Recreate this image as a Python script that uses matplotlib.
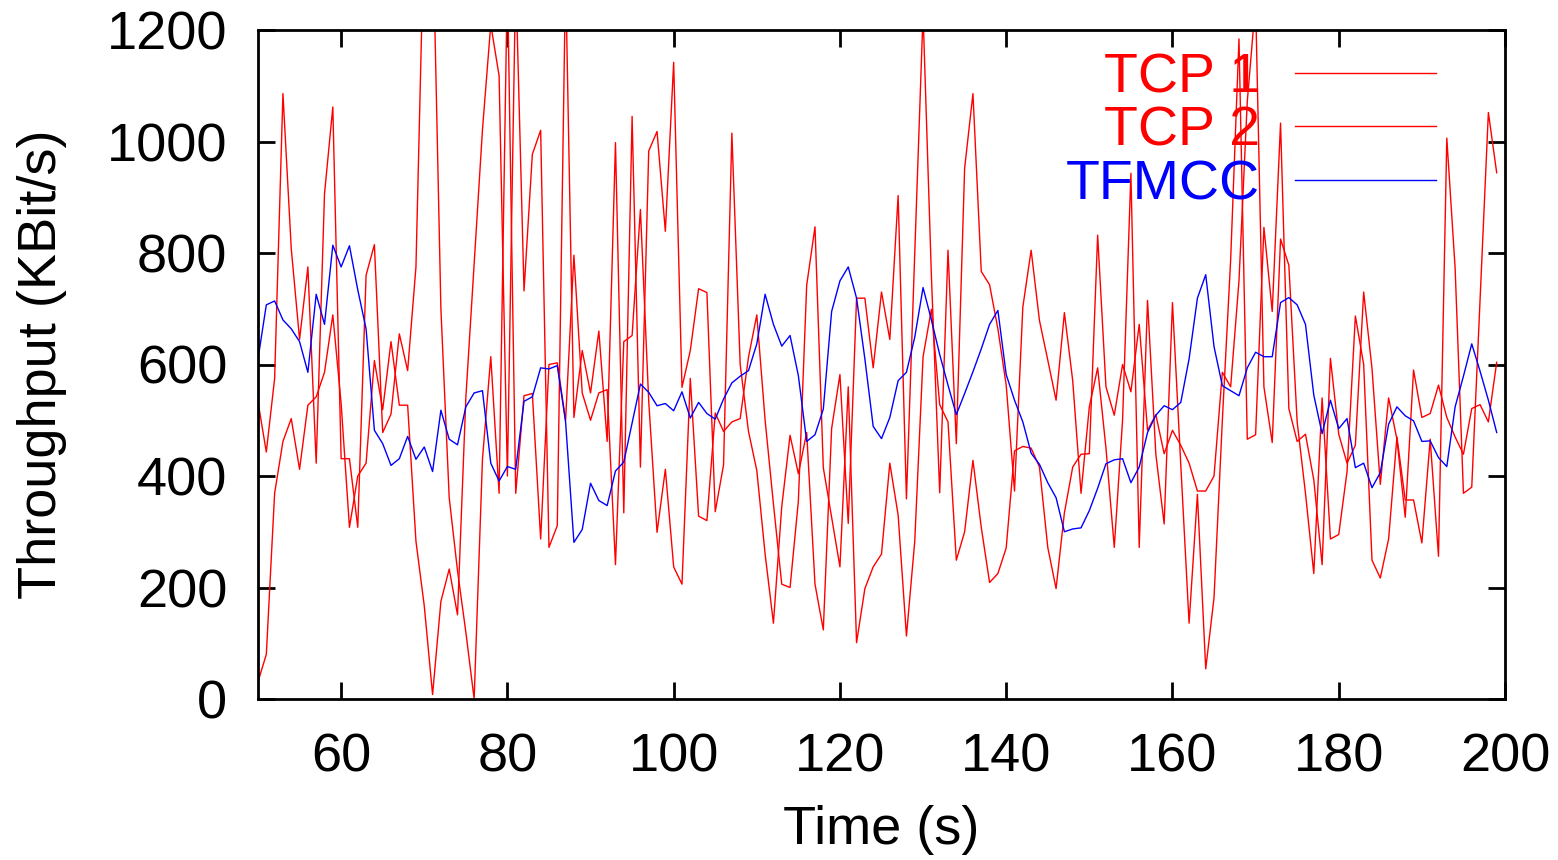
import matplotlib
matplotlib.use("Agg")
import matplotlib.pyplot as plt
import numpy as np

plt.rcParams['font.family'] = ['Liberation Sans', 'DejaVu Sans']

# time axis, one sample per second
time_s = list(range(50, 200))

# throughput in KBit/s
tcp1 = [31, 80, 369, 462, 503, 412, 527, 542, 586, 689,
        530, 308, 400, 423, 607, 519, 641, 527, 527, 283,
        167, 8, 175, 233, 151, 540, 780, 1021, 1210, 1118,
        400, 1300, 732, 977, 1020, 272, 311, 1300, 505, 625,
        549, 660, 462, 998, 334, 1045, 416, 983, 1018, 839,
        1142, 559, 625, 736, 729, 336, 420, 1015, 600, 480,
        410, 260, 136, 345, 473, 404, 478, 206, 124, 485,
        582, 315, 719, 719, 594, 730, 645, 903, 359, 800,
        1230, 760, 370, 805, 458, 952, 1086, 767, 743, 664,
        563, 373, 703, 805, 679, 608, 536, 693, 571, 369,
        524, 594, 450, 272, 501, 943, 272, 715, 439, 314,
        711, 420, 136, 367, 54, 182, 500, 788, 1184, 466,
        474, 846, 695, 1033, 521, 462, 475, 393, 241, 611,
        475, 423, 455, 730, 593, 385, 540, 466, 326, 590,
        505, 512, 563, 505, 470, 439, 521, 528, 497, 604]

tcp2 = [533, 443, 575, 1086, 808, 645, 775, 423, 906, 1062,
        431, 431, 308, 760, 815, 478, 511, 655, 589, 775,
        1400, 1400, 700, 361, 230, 120, 0, 430, 614, 369,
        1300, 369, 544, 548, 287, 600, 603, 500, 796, 549,
        500, 549, 555, 241, 641, 652, 878, 534, 299, 412,
        237, 206, 575, 328, 320, 513, 480, 497, 503, 613,
        689, 500, 350, 206, 200, 355, 742, 847, 415, 326,
        237, 560, 101, 198, 237, 260, 423, 330, 113, 283,
        614, 699, 528, 497, 249, 300, 428, 308, 209, 225,
        271, 445, 453, 450, 416, 272, 198, 334, 416, 439,
        440, 832, 560, 509, 600, 551, 672, 482, 510, 440,
        482, 455, 423, 373, 373, 400, 586, 560, 750, 1072,
        1250, 560, 460, 825, 778, 497, 369, 225, 540, 287,
        295, 408, 687, 600, 249, 217, 287, 470, 357, 357,
        280, 466, 256, 1006, 773, 369, 380, 716, 1052, 944]

tfmcc = [610, 707, 714, 680, 664, 641, 586, 726, 672, 814,
         775, 813, 734, 664, 482, 458, 419, 431, 471, 430,
         452, 408, 518, 466, 456, 524, 549, 553, 423, 391,
         417, 412, 534, 542, 594, 592, 598, 497, 281, 304,
         387, 356, 347, 409, 425, 495, 565, 550, 526, 530,
         517, 551, 504, 532, 512, 502, 538, 567, 579, 589,
         637, 726, 672, 633, 652, 580, 462, 474, 520, 695,
         750, 775, 719, 610, 489, 467, 505, 571, 586, 649,
         738, 680, 618, 563, 510, 548, 587, 628, 672, 697,
         582, 536, 497, 441, 421, 388, 361, 300, 305, 307,
         338, 378, 422, 429, 431, 388, 416, 478, 509, 526,
         519, 532, 610, 719, 761, 632, 562, 553, 544, 594,
         622, 614, 614, 711, 720, 707, 672, 545, 476, 536,
         485, 503, 415, 423, 379, 406, 493, 524, 508, 499,
         462, 463, 433, 417, 524, 579, 637, 588, 536, 478]

fig = plt.figure(figsize=(15.58, 8.6), dpi=100)
ax = fig.add_axes([258 / 1558, 1 - 699 / 860, (1505 - 258) / 1558, (699 - 30) / 860])

ax.plot(time_s, tcp1, color='#ff0000', lw=1.0, label='TCP 1')
ax.plot(time_s, tcp2, color='#ff0000', lw=1.0, label='TCP 2')
ax.plot(time_s, tfmcc, color='#0000ff', lw=1.0, label='TFMCC')

ax.set_xlim(50, 200)
ax.set_ylim(0, 1200)
ax.set_xticks(np.arange(60, 201, 20))
ax.set_yticks(np.arange(0, 1201, 200))

ax.tick_params(direction='in', length=12, width=2, labelsize=39,
               top=True, right=True)
ax.tick_params(axis='y', pad=22)
ax.tick_params(axis='x', pad=24)
for sp in ax.spines.values():
    sp.set_linewidth(2)

ax.set_xlabel('Time (s)', fontsize=39, labelpad=16)
ax.set_ylabel('Throughput (KBit/s)', fontsize=39, labelpad=29)

leg = ax.legend(loc='upper right', bbox_to_anchor=(0.976, 1.025), frameon=False,
                markerfirst=False, fontsize=40, handlelength=2.55,
                handletextpad=0.62, labelspacing=0.03, borderpad=0.2)
for txt, ln in zip(leg.get_texts(), leg.get_lines()):
    txt.set_color(ln.get_color())

fig.savefig('out.png', dpi=100)
